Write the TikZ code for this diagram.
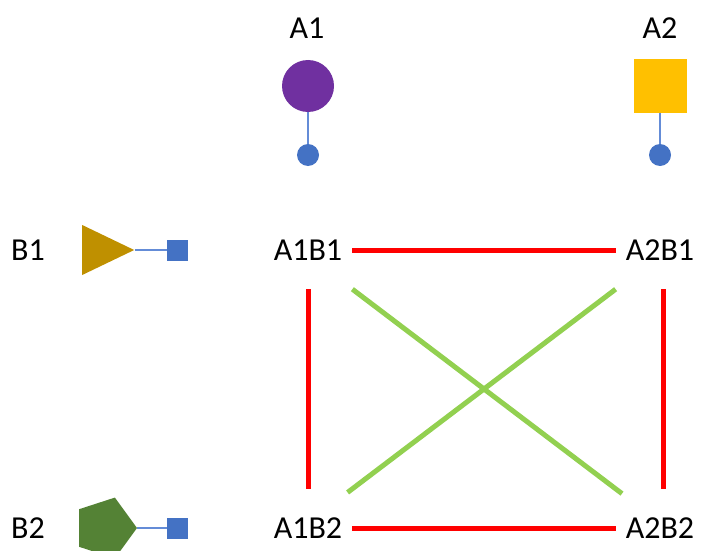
\documentclass[tikz,border=0pt]{standalone}
\usepackage{fontspec}
\setmainfont{Carlito}
\usetikzlibrary{shapes.geometric}
\definecolor{purplecolor}{RGB}{112, 48, 160}
\definecolor{yellowcolor}{RGB}{255, 192, 0}
\definecolor{goldcolor}{RGB}{191, 144, 0}
\definecolor{leafcolor}{RGB}{84, 130, 53}
\definecolor{dotcolor}{RGB}{68, 114, 196}
\definecolor{stemcolor}{RGB}{100, 140, 215}
\definecolor{edgered}{RGB}{255, 0, 0}
\definecolor{edgegreen}{RGB}{146, 208, 80}
\tikzset{
labeltext/.style={
  font=\fontsize{32}{36}\selectfont,
  text=black,
  inner sep=0pt
},
pairnode/.style={
  labeltext,
  minimum height=78pt,
  inner xsep=10pt
},
bluedot/.style={
  circle,
  fill=dotcolor,
  minimum size=22pt,
  inner sep=0pt
},
bluesquare/.style={
  rectangle,
  fill=dotcolor,
  minimum size=21pt,
  inner sep=0pt
},
stem/.style={
  draw=stemcolor,
  line width=1.5pt
},
rededge/.style={
  draw=edgered,
  line width=5pt
},
greenedge/.style={
  draw=edgegreen,
  line width=5pt
}
}

\begin{document}
\begin{tikzpicture}[x=1pt, y=-1pt]
  \useasboundingbox (0,0) rectangle (701,551);
  \clip (0,0) rectangle (701,551);

  % Factor A
  \node[labeltext] (a1lab) at (307,28) {A1};
  \node[labeltext] (a2lab) at (660,28) {A2};
  \node[circle, fill=purplecolor, minimum size=52pt, inner sep=0pt]
    (a1) at (308,86) {};
  \node[bluedot] (a1dot) at (308,155) {};
  \draw[stem] (a1) -- (a1dot);
  \node[rectangle, fill=yellowcolor, minimum size=53pt, inner sep=0pt]
    (a2) at (660,86) {};
  \node[bluedot] (a2dot) at (660,155) {};
  \draw[stem] (a2) -- (a2dot);

  % Factor B
  \node[labeltext] (b1lab) at (28,250) {B1};
  \node[labeltext] (b2lab) at (28,528) {B2};
  \node[isosceles triangle, isosceles triangle stretches, fill=goldcolor,
    minimum width=50pt, minimum height=52pt, inner sep=0pt,
    anchor=lower side] (b1) at (82,250) {};
  \node[bluesquare] (b1sq) at (177.5,250) {};
  \draw[stem] (b1.apex) -- (b1sq);
  \node[regular polygon, regular polygon sides=5, shape border rotate=-90,
    fill=leafcolor, minimum size=64pt, inner sep=0pt] (b2) at (105,528) {};
  \node[bluesquare] (b2sq) at (177.5,528) {};
  \draw[stem] (b2) -- (b2sq);

  % Combinations
  \node[pairnode] (a1b1) at (308,250) {A1B1};
  \node[pairnode] (a2b1) at (660,250) {A2B1};
  \node[pairnode] (a1b2) at (308,528) {A1B2};
  \node[pairnode] (a2b2) at (660,528) {A2B2};

  \draw[rededge] (a1b1) -- (a2b1);
  \draw[rededge] (a1b2) -- (a2b2);
  \draw[rededge] (a1b1) -- (a1b2);
  \draw[rededge] ([xshift=3pt]a2b1.south) -- ([xshift=3pt]a2b2.north);
  \draw[greenedge, shorten >=-8pt] (a1b1.south east) -- (a2b2.north west);
  \draw[greenedge, shorten <=-6pt] (a1b2.north east) -- (a2b1.south west);
\end{tikzpicture}
\end{document}
